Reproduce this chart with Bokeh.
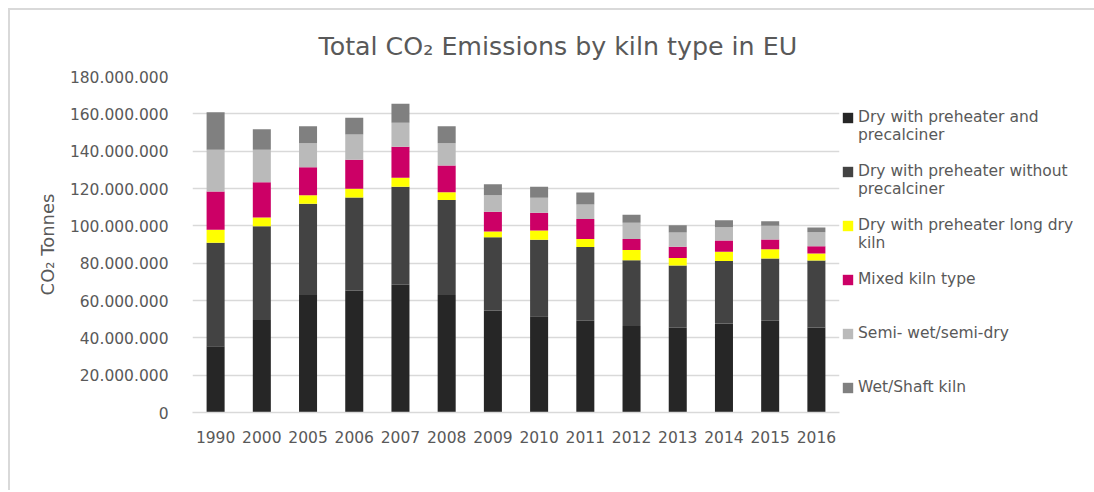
from bokeh.plotting import figure
from bokeh.models import (ColumnDataSource, FactorRange, Range1d, Legend, LegendItem,
                          SingleIntervalTicker, CustomJSTickFormatter)
from bokeh.embed import file_html
from bokeh.resources import INLINE

years = ["1990", "2000", "2005", "2006", "2007", "2008", "2009", "2010",
         "2011", "2012", "2013", "2014", "2015", "2016"]

dry_pre_precalc = [35_500_000, 49_600_000, 63_000_000, 65_400_000, 68_400_000, 63_000_000, 54_600_000,
                   51_600_000, 49_100_000, 46_400_000, 45_400_000, 47_700_000, 49_100_000, 45_500_000]
dry_pre_no_precalc = [55_400_000, 50_200_000, 48_800_000, 49_800_000, 52_500_000, 50_900_000, 39_300_000,
                      40_900_000, 39_500_000, 35_200_000, 33_400_000, 33_400_000, 33_400_000, 35_900_000]
dry_long = [7_000_000, 4_700_000, 4_600_000, 4_600_000, 4_800_000, 4_100_000, 3_100_000,
            5_000_000, 4_400_000, 5_400_000, 4_000_000, 5_000_000, 5_000_000, 3_800_000]
mixed = [20_500_000, 18_900_000, 15_000_000, 15_600_000, 16_600_000, 14_300_000, 10_500_000,
         9_500_000, 10_600_000, 6_000_000, 6_000_000, 6_000_000, 5_200_000, 3_900_000]
semi = [22_300_000, 17_300_000, 12_900_000, 13_500_000, 12_900_000, 12_000_000, 8_900_000,
        8_000_000, 7_800_000, 8_600_000, 7_600_000, 7_200_000, 7_300_000, 7_500_000]
wet_shaft = [20_200_000, 11_100_000, 9_100_000, 9_000_000, 10_200_000, 9_100_000, 5_900_000,
             5_900_000, 6_500_000, 4_300_000, 3_900_000, 3_700_000, 2_500_000, 2_500_000]

series_keys = ["dry_pre_precalc", "dry_pre_no_precalc", "dry_long", "mixed", "semi", "wet_shaft"]
# legend label lines (first line, second line)
series_label_lines = [("Dry with preheater and", "precalciner"),
                      ("Dry with preheater without", "precalciner"),
                      ("Dry with preheater long dry", "kiln"),
                      ("Mixed kiln type", ""),
                      ("Semi- wet/semi-dry", ""),
                      ("Wet/Shaft kiln", "")]
colors = ["#262626", "#434343", "#FFFF00", "#CC0066", "#BABABA", "#808080"]

source = ColumnDataSource(data=dict(
    years=years,
    dry_pre_precalc=dry_pre_precalc,
    dry_pre_no_precalc=dry_pre_no_precalc,
    dry_long=dry_long,
    mixed=mixed,
    semi=semi,
    wet_shaft=wet_shaft,
))

TXT = "#595959"
FONT = "DejaVu Sans"

p = figure(x_range=FactorRange(*years, range_padding=0), y_range=Range1d(0, 180_000_000),
           frame_width=647, frame_height=336,
           min_border_left=182, min_border_top=66, min_border_right=256, min_border_bottom=78,
           output_backend="svg", toolbar_location=None)
p.styles = {"border-top": "2px solid #d9d9d9", "border-left": "2px solid #d9d9d9",
            "margin-left": "8px", "margin-top": "8px"}

renderers = p.vbar_stack(series_keys, x="years", width=0.39, color=colors, source=source,
                         line_color=None)

p.title.text = "Total CO\u2082 Emissions by kiln type in EU"
p.title.text_font = FONT
p.title.text_font_size = "25.3px"
p.title.text_font_style = "normal"
p.title.text_color = TXT
p.title.align = "left"
p.title.offset = 126
p.title.standoff = 31

p.outline_line_color = None
p.xgrid.grid_line_color = None
p.ygrid.grid_line_color = "#d9d9d9"
p.ygrid.grid_line_width = 1.3

p.yaxis.ticker = SingleIntervalTicker(interval=20_000_000)
p.yaxis.formatter = CustomJSTickFormatter(
    code="return Math.round(tick).toString().replace(/\\B(?=(\\d{3})+(?!\\d))/g, '.');")
p.yaxis.axis_line_color = None
p.yaxis.major_tick_line_color = None
p.yaxis.minor_tick_line_color = None
p.yaxis.major_label_standoff = 18
p.yaxis.major_label_text_font = FONT
p.yaxis.major_label_text_font_size = "15.5px"
p.yaxis.major_label_text_color = TXT
p.yaxis.axis_label = "CO\u2082 Tonnes"
p.yaxis.axis_label_text_font = FONT
p.yaxis.axis_label_text_font_size = "18px"
p.yaxis.axis_label_text_font_style = "normal"
p.yaxis.axis_label_text_color = TXT
p.yaxis.axis_label_standoff = 9

p.xaxis.axis_line_color = "#d9d9d9"
p.xaxis.axis_line_width = 1.3
p.xaxis.major_tick_line_color = None
p.xaxis.minor_tick_line_color = None
p.xaxis.major_label_standoff = 12
p.xaxis.major_label_text_font = FONT
p.xaxis.major_label_text_font_size = "15.5px"
p.xaxis.major_label_text_color = TXT

# each legend label is laid out on three text rows (blank, first line, second line) so the
# swatch, which is centred on the item, lines up with the first text line
labels = [" \n%s\n%s" % (a, b if b else " ") for a, b in series_label_lines]
items = [LegendItem(label=lab, renderers=[r]) for lab, r in zip(labels, renderers)]
legend = Legend(items=items, location=(2, -2), orientation="vertical",
                border_line_color=None, background_fill_alpha=0,
                margin=0, padding=0, spacing=0,
                glyph_width=13, glyph_height=13, label_standoff=4,
                label_text_font=FONT, label_text_font_size="15.5px",
                label_text_color=TXT, label_height=20)
p.add_layout(legend, "right")

open("out.html", "w").write(file_html(p, INLINE))
